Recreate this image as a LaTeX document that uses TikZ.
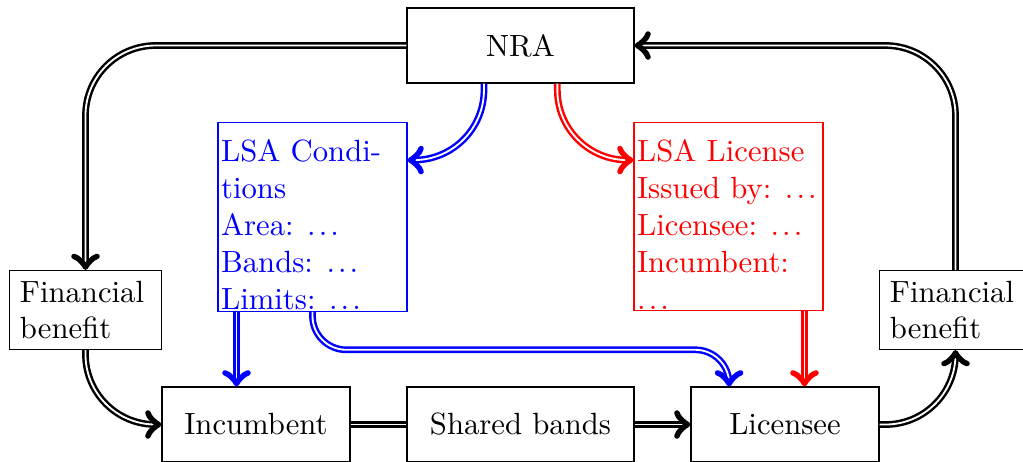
\documentclass[tikz,border=0pt]{standalone}
\newcommand\mydots{\hspace{4.4pt}.\kern1.0pt.\kern1.0pt.}
\begin{document}
\begin{tikzpicture}[x=0.3257pt,y=-0.3257pt,
  box/.style={draw, align=center, inner sep=0pt},
  bigbox/.style={box, minimum width=73.9pt, minimum height=24.4pt},
  midbox/.style={box, minimum width=61.2pt, minimum height=24.4pt},
  fbbox/.style={draw, text width=1.5cm, align=left},
  lsabox/.style={draw, text width=59.5pt, align=left, inner xsep=1pt, inner ysep=0.5pt, anchor=north},
  conn/.style={thick, double, ->},
  plainconn/.style={thick, double},
  bigr/.style={rounded corners=22.8pt},
  smallr/.style={rounded corners=11pt}
]
\useasboundingbox (0,0) rectangle (1023,461);
\node[bigbox] (nra) at (520.5,45.5) {NRA};
\node[lsabox, blue] (cond) at (312.5,122) {\rule{0pt}{12.3pt}LSA Condi-\\tions\\Area:\mydots\\Bands:\mydots\\Limits:\mydots};
\node[lsabox, red] (lic) at (728.5,122) {\rule{0pt}{12.3pt}LSA License\\\mbox{Issued by:\mydots}\\Licensee:\mydots\\Incumbent:\\.\kern1.0pt.\kern1.0pt.};
\node[fbbox] (fb1) at (85.5,310) {Financial benefit};
\node[fbbox] (fb2) at (955.5,310) {Financial benefit};
\node[midbox] (inc) at (256,424.5) {Incumbent};
\node[bigbox] (sh) at (520.5,424.5) {Shared bands};
\node[midbox] (lse) at (785,424.5) {Licensee};
% top loops
\draw[conn, bigr] (nra.west) -| (fb1.north);
\draw[conn, bigr] (fb2.north) |- (nra.east);
% NRA to LSA boxes
\draw[conn, bigr, blue] ([xshift=-11.9pt]nra.south) |- ([yshift=-12.4pt]cond.north east);
\draw[conn, bigr, red] ([xshift=12pt]nra.south) |- ([yshift=-12.4pt]lic.north west);
% LSA boxes down
\draw[conn, blue] ([xshift=6.2pt]cond.south west) -- ([xshift=6.2pt]cond.south west |- inc.north);
\draw[conn, blue, smallr] (cond.south) -- ++(0,38) -| ([xshift=-18.2pt]lse.north);
\draw[conn, red] ([xshift=-6.2pt]lic.south east) -- ([xshift=-6.2pt]lic.south east |- lse.north);
% bottom row
\draw[conn, bigr] (fb1.south) |- (inc.west);
\draw[plainconn] (inc.east) -- (sh.west);
\draw[conn] (sh.east) -- (lse.west);
\draw[conn, bigr] (lse.east) -| (fb2.south);
\end{tikzpicture}
\end{document}
